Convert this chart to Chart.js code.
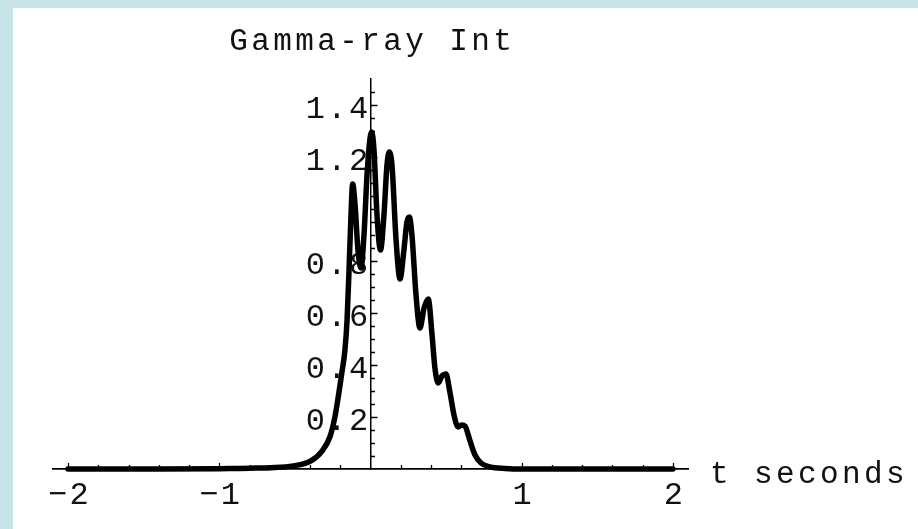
<!DOCTYPE html>
<html><head><meta charset="utf-8">
<script src="https://cdn.jsdelivr.net/npm/chart.js@4.4.0/dist/chart.umd.min.js"></script>
<style>
html,body{margin:0;padding:0;background:#fff;}
canvas{display:block;}
</style></head><body>
<canvas id="c" width="918" height="529"></canvas>
<script>
// ---- data ----
const timeSeconds = [-2.0, -1.5, -1.0, -0.9, -0.8, -0.66, -0.51, -0.40, -0.323, -0.268, -0.235, -0.213, -0.190, -0.169, -0.155, -0.142, -0.129, -0.118, -0.102, -0.083, -0.063, -0.043, -0.023, -0.003, 0.008, 0.023, 0.043, 0.066, 0.089, 0.109, 0.124, 0.142, 0.169, 0.195, 0.221, 0.241, 0.257, 0.274, 0.301, 0.327, 0.354, 0.382, 0.407, 0.426, 0.448, 0.473, 0.499, 0.526, 0.552, 0.579, 0.605, 0.625, 0.658, 0.691, 0.731, 0.790, 0.89, 1.0, 1.5, 2.0];
const gammaIntensity = [0, 0, 0.001, 0.002, 0.003, 0.005, 0.012, 0.029, 0.067, 0.124, 0.201, 0.278, 0.368, 0.458, 0.573, 0.765, 0.977, 1.096, 1.015, 0.842, 0.773, 0.900, 1.131, 1.273, 1.296, 1.227, 0.977, 0.842, 0.977, 1.169, 1.219, 1.169, 0.881, 0.731, 0.842, 0.950, 0.969, 0.900, 0.669, 0.542, 0.619, 0.654, 0.515, 0.388, 0.331, 0.358, 0.365, 0.292, 0.208, 0.162, 0.169, 0.165, 0.108, 0.054, 0.023, 0.008, 0.002, 0, 0, 0];
const xTickValues = [-2, -1, 1, 2];
const xTickLabels = ['\u22122', '\u22121', '1', '2'];
const yTickValues = [0.2, 0.4, 0.6, 0.8, 1.2, 1.4];
const yTickLabels = ['0.2', '0.4', '0.6', '0.8', '1.2', '1.4'];
const plotTitle = 'Gamma-ray Int';
const xAxisLabel = 't seconds';

const FONT = '"Liberation Mono", "DejaVu Sans Mono", monospace';

const bgPlugin = {
  id: 'bg',
  beforeDraw(chart) {
    const c = chart.ctx;
    c.save();
    c.fillStyle = '#c6e4e8';
    c.fillRect(0, 0, chart.width, chart.height);
    c.fillStyle = '#ffffff';
    c.fillRect(13, 8, chart.width - 13, chart.height - 8);
    c.restore();
    // wider glyph spacing for the Courier-like tick labels
    try { c.letterSpacing = '2.4px'; } catch (e) {}
  }
};

const decorPlugin = {
  id: 'decor',
  beforeDatasetsDraw(chart) {
    const c = chart.ctx;
    const xs = chart.scales.x, ys = chart.scales.y;
    const x0 = xs.getPixelForValue(0), y0 = ys.getPixelForValue(0);
    c.save();
    c.strokeStyle = '#000';
    c.lineWidth = 1.3;
    c.beginPath();
    // y ticks: minor every 0.05, major every 0.2
    for (let k = 1; k <= 29; k++) {
      const v = k * 0.05;
      const major = k % 4 === 0;
      const py = Math.round(ys.getPixelForValue(v)) + 0.5;
      c.moveTo(x0, py);
      c.lineTo(x0 + (major ? 7 : 4.5), py);
    }
    // x ticks: minor every 0.2, major every 1
    for (let k = -10; k <= 10; k++) {
      if (k === 0) continue;
      const v = k * 0.2;
      const major = k % 5 === 0;
      const px = Math.round(xs.getPixelForValue(v)) + 0.5;
      c.moveTo(px, y0);
      c.lineTo(px, y0 - (major ? 6 : 4));
    }
    c.stroke();
    // texts
    c.fillStyle = '#111';
    c.font = '31px ' + FONT;
    try { c.letterSpacing = '3.4px'; } catch (e) {}
    c.textBaseline = 'alphabetic';
    c.textAlign = 'center';
    c.fillText(plotTitle, x0 + 1.7, 50);
    c.textAlign = 'left';
    c.fillText(xAxisLabel, chart.chartArea.right + 22, y0 + 14);
    c.restore();
    try { c.letterSpacing = '0px'; } catch (e) {}
  }
};

new Chart(document.getElementById('c'), {
  type: 'line',
  data: {
    datasets: [{
      data: timeSeconds.map((t, i) => ({ x: t, y: gammaIntensity[i] })),
      borderColor: '#000',
      borderWidth: 5.5,
      pointRadius: 0,
      fill: false,
      cubicInterpolationMode: 'monotone',
      borderJoinStyle: 'round',
      borderCapStyle: 'round',
      clip: false
    }]
  },
  options: {
    responsive: false,
    animation: false,
    events: [],
    layout: { padding: { left: 52.9, right: 229.9, top: 79, bottom: 60 } },
    plugins: { legend: { display: false }, title: { display: false }, tooltip: { enabled: false } },
    scales: {
      x: {
        type: 'linear', min: -2.1, max: 2.1, position: { y: 0 },
        grid: { display: false, drawTicks: false },
        border: { display: true, color: '#000', width: 1.8 },
        afterFit(s) { s.height = 0; },
        afterBuildTicks(s) { s.ticks = xTickValues.map(v => ({ value: v })); },
        ticks: {
          autoSkip: false, maxRotation: 0, minRotation: 0, padding: 7, labelOffset: 1.6, color: '#111',
          font: { family: FONT, size: 32 },
          callback: (v, i) => xTickLabels[i]
        }
      },
      y: {
        type: 'linear', min: 0, max: 1.5, position: { x: 0 },
        grid: { display: false, drawTicks: false },
        border: { display: true, color: '#000', width: 1.5 },
        afterFit(s) { s.width = 0; },
        afterBuildTicks(s) { s.ticks = yTickValues.map(v => ({ value: v })); },
        ticks: {
          autoSkip: false, padding: 4, labelOffset: 4.5, color: '#111',
          font: { family: FONT, size: 32 },
          callback: (v, i) => yTickLabels[i]
        }
      }
    }
  },
  plugins: [bgPlugin, decorPlugin]
});
</script>
</body></html>
